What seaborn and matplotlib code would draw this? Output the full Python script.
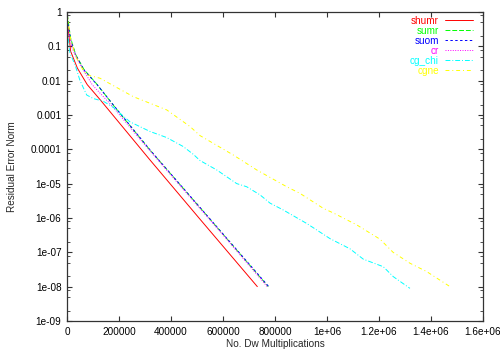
import numpy as np
import pandas as pd
import matplotlib
matplotlib.use("Agg")
import matplotlib.pyplot as plt
import seaborn as sns
from matplotlib.lines import Line2D
from matplotlib.ticker import FixedLocator, NullFormatter, NullLocator

# values
shumr_x = [1000, 4000, 14000, 40000, 78000, 127000, 319000, 512000, 732000]
shumr_y = [0.45, 0.34, 0.071, 0.023, 0.0076, 0.0028, 4.9e-5, 9.1e-7, 1.0e-8]

sumr_x = [1000, 14000, 33500, 65400, 116500, 181000, 319000, 511500, 774000]
sumr_y = [0.85, 0.17, 0.057, 0.021, 0.0076, 0.0018, 9.5e-5, 2.0e-6, 1.0e-8]

suom_x = [1000, 14500, 34000, 66000, 117000, 182000, 320000, 512000, 776000]
suom_y = [0.6, 0.15, 0.053, 0.020, 0.0074, 0.0018, 9.4e-5, 2.0e-6, 1.0e-8]

cr_x = [1000, 19000, 50000, 98000, 174000, 260000, 420000, 600000, 770000]
cr_y = [0.39, 0.089, 0.029, 0.0074, 0.0018, 3.0e-4, 1.17e-5, 3.2e-7, 1.0e-8]

cg_chi_x = [1000, 11500, 30800, 50000, 75800, 101000, 139600, 178000, 242000,
            319000, 383000, 447000, 486000, 511500, 575700, 652700, 691000,
            742300, 780800, 832000, 922000, 1011500, 1088500, 1139600,
            1216500, 1255000, 1319000]
cg_chi_y = [0.32, 0.063, 0.029, 0.01, 0.0038, 0.0030, 0.0025, 0.00166, 6.3e-4,
            3.3e-4, 2.2e-4, 1.2e-4, 7.1e-5, 4.7e-5, 2.5e-5, 1.0e-5, 8.1e-6,
            4.7e-6, 2.7e-6, 1.7e-6, 6.9e-7, 2.5e-7, 1.26e-7, 6.3e-8,
            3.8e-8, 1.95e-8, 8.9e-9]

cgne_x = [1000, 14200, 33500, 65400, 75800, 127000, 255000, 383500, 473000,
          511500, 639600, 729600, 845000, 896000, 985800, 1024000, 1114000,
          1204000, 1254000, 1319000, 1383000, 1473000]
cgne_y = [0.79, 0.16, 0.05, 0.018, 0.0148, 0.0117, 0.0034, 0.0014, 4.6e-4,
          2.5e-4, 6.8e-5, 2.5e-5, 8.1e-6, 5.2e-6, 1.9e-6, 1.4e-6, 6.3e-7,
          2.4e-7, 1.0e-7, 4.8e-8, 2.75e-8, 1.0e-8]

series_names = ["shumr", "sumr", "suom", "cr", "cg_chi", "cgne"]
series_colors = ["#ff0000", "#00ff00", "#0000ff", "#ff00ff", "#00ffff", "#ffff00"]

x_ticks = [0, 200000, 400000, 600000, 800000, 1000000, 1200000, 1400000, 1600000]
x_tick_labels = ["0", "200000", "400000", "600000", "800000",
                 "1e+06", "1.2e+06", "1.4e+06", "1.6e+06"]
y_ticks = [1, 0.1, 0.01, 0.001, 0.0001, 1e-5, 1e-6, 1e-7, 1e-8, 1e-9]
y_tick_labels = ["1", "0.1", "0.01", "0.001", "0.0001",
                 "1e-05", "1e-06", "1e-07", "1e-08", "1e-09"]

# long-form table for seaborn
xs = [shumr_x, sumr_x, suom_x, cr_x, cg_chi_x, cgne_x]
ys = [shumr_y, sumr_y, suom_y, cr_y, cg_chi_y, cgne_y]
df = pd.concat([pd.DataFrame({"mults": x, "resid": y, "method": n})
                for x, y, n in zip(xs, ys, series_names)], ignore_index=True)

dash_styles = ["", (5, 2), (2.5, 2.5), (1, 1.5), (5, 2, 1, 2), (4, 3, 1, 3)]

sns.set_style("ticks")
plt.rcParams["font.family"] = ["Liberation Sans", "DejaVu Sans"]

fig, ax = plt.subplots(figsize=(5, 3.5), dpi=100)
fig.subplots_adjust(left=0.134, right=0.966, bottom=0.083, top=0.966)

sns.lineplot(data=df, x="mults", y="resid", hue="method", style="method",
             palette=dict(zip(series_names, series_colors)),
             dashes=dict(zip(series_names, dash_styles)),
             estimator=None, sort=False, linewidth=0.7, legend=False, ax=ax)

ax.set_yscale("log")
ax.set_xlim(0, 1600000)
ax.set_ylim(1e-9, 1)

ax.xaxis.set_major_locator(FixedLocator(x_ticks))
ax.set_xticklabels(x_tick_labels)
ax.xaxis.set_minor_locator(NullLocator())
ax.yaxis.set_major_locator(FixedLocator(y_ticks))
ax.set_yticklabels(y_tick_labels)
minor_y = [k * 10.0 ** e for e in range(-9, 0) for k in (2, 5, 8)]
ax.yaxis.set_minor_locator(FixedLocator(minor_y))
ax.yaxis.set_minor_formatter(NullFormatter())

ax.tick_params(which="both", direction="in", top=True, right=True,
               labelsize=7.2, colors="#333333", labelcolor="black")
ax.tick_params(which="major", length=3.5, width=0.8, pad=4)
ax.tick_params(which="minor", length=2, width=0.6)
for sp in ax.spines.values():
    sp.set_color("#333333")
    sp.set_linewidth(0.9)

ax.set_xlabel("No. Dw Multiplications", fontsize=7.2, labelpad=2)
ax.set_ylabel("Residual Error Norm", fontsize=7.2, labelpad=10)

handles = [Line2D([], [], color=c, lw=0.7,
                  linestyle="-" if d == "" else (0, d))
           for c, d in zip(series_colors, dash_styles)]
leg = ax.legend(handles, series_names, loc="upper right",
                bbox_to_anchor=(0.985, 1.0), borderaxespad=0,
                markerfirst=False, frameon=False, fontsize=7.2,
                handlelength=2.8, handletextpad=0.6, labelspacing=0)
for txt, c in zip(leg.get_texts(), series_colors):
    txt.set_color(c)

fig.savefig("out.png", dpi=100)
plt.close(fig)
